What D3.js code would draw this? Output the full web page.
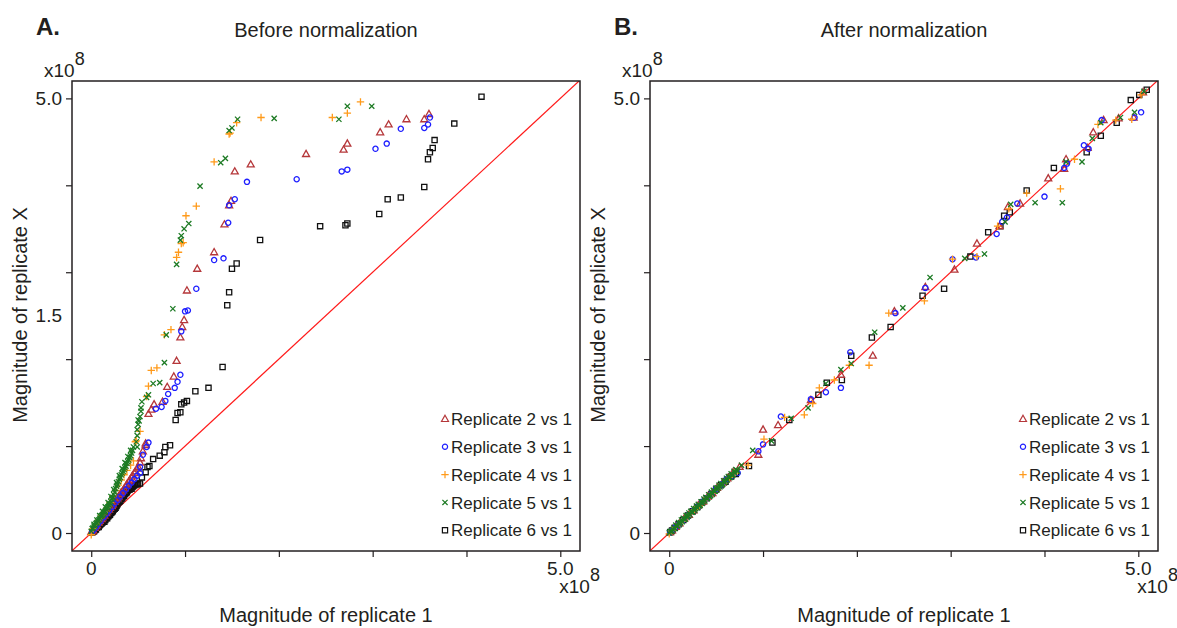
<!DOCTYPE html>
<html>
<head>
<meta charset="utf-8">
<script src="https://cdn.jsdelivr.net/npm/d3@7"></script>
<style>
  body { margin: 0; background: #fff; }
  text { font-family: "Liberation Sans", Arial, Helvetica, sans-serif; fill: #231f20; }
</style>
</head>
<body>
<div id="chart"></div>
<script>
// values are in units of 10^8, read as [replicate 1, replicate X]

// ---- before normalization ----
var before2 = [[0.00,0.01],[0.01,0.02],[0.02,0.03],[0.04,0.06],[0.06,0.09],[0.08,0.12],[0.11,0.16],[0.14,0.20],
  [0.17,0.25],[0.20,0.29],[0.23,0.33],[0.26,0.38],[0.29,0.42],[0.32,0.47],[0.35,0.51],[0.38,0.56],[0.41,0.61],
  [0.44,0.66],[0.47,0.71],[0.50,0.76],[0.52,0.81],[0.53,0.86],[0.55,0.94],[0.58,1.01],[0.58,1.03],[0.61,1.37],
  [0.64,1.42],[0.67,1.48],[0.76,1.51],[0.81,1.68],[0.88,1.80],[0.91,1.98],[0.95,2.25],[0.97,2.37],[0.99,2.45],
  [1.02,2.79],[1.13,3.04],[1.31,3.23],[1.42,3.55],[1.47,3.77],[1.49,3.82],[1.53,4.16],[1.70,4.24],[2.29,4.36],
  [2.69,4.41],[2.73,4.48],[3.08,4.61],[3.17,4.70],[3.36,4.76],[3.55,4.76],[3.60,4.82],
  [0.05,0.08],[0.09,0.14],[0.12,0.18],[0.16,0.23],[0.19,0.27],[0.22,0.31],[0.25,0.36],[0.28,0.40],[0.31,0.45],
  [0.34,0.49],[0.37,0.54],[0.40,0.59],[0.43,0.64],[0.46,0.69],[0.49,0.74]];

var before3 = [[0.01,0.015],[0.03,0.04],[0.05,0.07],[0.07,0.10],[0.10,0.14],[0.13,0.18],[0.16,0.22],[0.19,0.26],
  [0.22,0.30],[0.25,0.34],[0.28,0.38],[0.31,0.42],[0.34,0.46],[0.37,0.50],[0.40,0.54],[0.43,0.58],[0.46,0.62],
  [0.49,0.66],[0.52,0.69],[0.52,0.76],[0.55,0.90],[0.59,0.99],[0.61,1.04],[0.69,1.43],[0.75,1.45],[0.79,1.52],
  [0.82,1.60],[0.89,1.67],[0.92,1.74],[0.95,1.82],[0.96,2.32],[1.00,2.55],[1.03,2.56],[1.12,2.81],[1.31,3.14],
  [1.41,3.16],[1.46,3.57],[1.47,3.77],[1.53,3.84],[1.66,4.04],[2.19,4.07],[2.67,4.16],[2.73,4.18],[3.03,4.42],
  [3.15,4.48],[3.30,4.65],[3.55,4.66],[3.59,4.70],[3.61,4.78]];

var before4 = [[0.00,-0.02],[0.02,0.05],[0.05,0.10],[0.08,0.15],[0.11,0.20],[0.14,0.24],[0.17,0.29],[0.20,0.35],
  [0.23,0.42],[0.26,0.49],[0.29,0.55],[0.32,0.61],[0.35,0.67],[0.38,0.72],[0.42,0.78],[0.45,0.83],[0.47,1.05],
  [0.48,1.06],[0.52,1.17],[0.59,1.57],[0.61,1.69],[0.64,1.87],[0.70,1.90],[0.78,2.28],[0.85,2.34],[0.91,3.17],
  [0.93,3.23],[0.96,3.33],[0.98,3.34],[1.01,3.65],[1.12,3.76],[1.31,4.27],[1.47,4.59],[1.48,4.60],[1.55,4.72],
  [1.81,4.78],[2.57,4.78],[2.73,4.83],[2.87,4.96]];

var before5 = [[0.00,0.02],[0.01,0.05],[0.03,0.08],[0.05,0.11],[0.08,0.15],[0.10,0.19],[0.13,0.22],[0.15,0.25],
  [0.18,0.30],[0.20,0.34],[0.22,0.39],[0.24,0.44],[0.27,0.54],[0.29,0.59],[0.31,0.64],[0.34,0.71],[0.37,0.77],
  [0.40,0.84],[0.43,0.92],[0.45,0.99],[0.49,0.99],[0.48,1.05],[0.49,1.12],[0.49,1.19],[0.50,1.25],[0.50,1.30],
  [0.51,1.29],[0.52,1.34],[0.53,1.40],[0.53,1.44],[0.54,1.51],[0.59,1.56],[0.61,1.59],[0.66,1.72],[0.73,1.73],
  [0.78,1.96],[0.80,2.28],[0.87,2.58],[0.91,3.09],[0.95,3.37],[0.96,3.42],[0.99,3.50],[1.04,3.56],[1.16,3.99],
  [1.38,4.26],[1.43,4.31],[1.47,4.63],[1.50,4.66],[1.56,4.76],[1.95,4.77],[2.64,4.76],[2.73,4.91],[2.99,4.91],
  [0.02,0.06],[0.04,0.09],[0.06,0.12],[0.07,0.14],[0.09,0.17],[0.11,0.20],[0.12,0.21],[0.14,0.24],[0.16,0.27],
  [0.17,0.29],[0.19,0.32],[0.21,0.36],[0.23,0.41],[0.25,0.47],[0.26,0.51],[0.28,0.56],[0.30,0.62],[0.32,0.67],
  [0.33,0.69],[0.35,0.73],[0.36,0.75],[0.38,0.80],[0.39,0.82],[0.41,0.87],[0.42,0.89],[0.44,0.95],
  [0.03,0.10],[0.06,0.15],[0.09,0.20],[0.12,0.25],[0.15,0.30],[0.18,0.35],[0.21,0.42],[0.24,0.50],[0.27,0.58],
  [0.30,0.66],[0.33,0.74],[0.36,0.81],[0.39,0.88],[0.42,0.95]];

var before6 = [[0.01,0.005],[0.02,0.015],[0.04,0.035],[0.06,0.06],[0.09,0.09],[0.12,0.12],[0.15,0.15],[0.19,0.20],
  [0.22,0.24],[0.24,0.27],[0.27,0.31],[0.31,0.37],[0.34,0.42],[0.37,0.46],[0.40,0.50],[0.43,0.51],[0.47,0.56],
  [0.52,0.57],[0.54,0.64],[0.58,0.70],[0.60,0.76],[0.62,0.77],[0.66,0.85],[0.73,0.89],[0.78,0.93],[0.79,0.99],
  [0.84,1.01],[0.90,1.30],[0.92,1.38],[0.95,1.39],[0.96,1.48],[0.99,1.50],[1.02,1.52],[1.11,1.63],[1.25,1.67],
  [1.40,1.91],[1.45,2.62],[1.47,2.77],[1.50,3.04],[1.55,3.10],[1.80,3.37],[2.44,3.53],[2.71,3.54],[2.73,3.56],
  [3.07,3.67],[3.16,3.84],[3.30,3.86],[3.55,3.98],[3.59,4.30],[3.61,4.38],[3.64,4.43],[3.66,4.52],[3.87,4.71],
  [4.16,5.02],
  [0.03,0.02],[0.05,0.04],[0.07,0.07],[0.08,0.07],[0.10,0.10],[0.11,0.11],[0.13,0.14],[0.14,0.13],[0.16,0.17],
  [0.17,0.17],[0.18,0.19],[0.20,0.21],[0.21,0.23],[0.23,0.25],[0.25,0.28],[0.26,0.29],[0.28,0.33],[0.29,0.35],
  [0.30,0.36],[0.32,0.39],[0.33,0.40],[0.35,0.43],[0.36,0.45],[0.38,0.47],[0.39,0.49],[0.41,0.50],[0.42,0.51],
  [0.44,0.53],[0.45,0.54],[0.46,0.55],[0.48,0.56],[0.49,0.56],[0.50,0.57]];

// ---- after normalization ----
var after2 = [[0.01,0.01],[0.03,0.03],[0.07,0.07],[0.11,0.11],[0.16,0.17],[0.21,0.21],[0.26,0.26],[0.31,0.32],
  [0.36,0.36],[0.41,0.42],[0.46,0.46],[0.51,0.52],[0.57,0.58],[0.62,0.63],[0.68,0.70],[0.75,0.76],[0.95,0.90],
  [1.00,1.19],[1.16,1.24],[1.51,1.53],[1.83,1.82],[2.17,2.04],[2.40,2.55],[2.73,2.83],[3.04,3.03],[3.28,3.33],
  [3.52,3.53],[3.61,3.75],[3.74,3.79],[4.04,4.08],[4.21,4.19],[4.23,4.30],[4.46,4.43],[4.52,4.61],[4.63,4.75],
  [4.79,4.77],[4.95,4.78],[5.05,5.07]];

var after3 = [[0.01,0.01],[0.03,0.03],[0.06,0.06],[0.10,0.10],[0.15,0.15],[0.20,0.20],[0.25,0.25],[0.30,0.30],
  [0.35,0.36],[0.40,0.40],[0.45,0.45],[0.50,0.51],[0.56,0.56],[0.61,0.62],[0.67,0.66],[0.73,0.69],[0.95,0.94],
  [1.00,1.02],[1.19,1.34],[1.51,1.54],[1.67,1.62],[1.83,1.67],[1.93,2.08],[2.41,2.53],[2.73,2.82],[3.02,3.15],
  [3.27,3.17],[3.49,3.44],[3.55,3.58],[3.60,3.63],[3.71,3.79],[4.00,3.87],[4.21,4.20],[4.24,4.25],[4.42,4.46],
  [4.47,4.42],[4.61,4.75],[4.96,4.78],[5.03,4.84]];

var after4 = [[0.00,-0.01],[0.03,0.03],[0.07,0.07],[0.12,0.12],[0.17,0.17],[0.22,0.22],[0.27,0.27],[0.32,0.31],
  [0.37,0.37],[0.42,0.42],[0.47,0.46],[0.52,0.53],[0.58,0.57],[0.64,0.64],[0.70,0.69],[0.84,0.78],[1.01,1.08],
  [1.23,1.33],[1.44,1.36],[1.53,1.49],[1.60,1.67],[1.76,1.76],[1.92,1.93],[2.13,1.93],[2.34,2.53],[2.72,2.67],
  [3.02,3.15],[3.28,3.18],[3.50,3.53],[3.62,3.73],[3.81,3.91],[4.17,3.96],[4.32,4.30],[4.57,4.70],[4.76,4.75],
  [4.93,4.76],[5.03,5.04]];

var after5 = [[0.00,0.00],[0.02,0.02],[0.04,0.04],[0.08,0.08],[0.12,0.12],[0.16,0.16],[0.20,0.20],[0.24,0.24],
  [0.28,0.28],[0.32,0.31],[0.36,0.36],[0.40,0.40],[0.44,0.43],[0.48,0.48],[0.52,0.52],[0.56,0.55],[0.60,0.60],
  [0.64,0.64],[0.68,0.67],[0.72,0.72],[0.77,0.78],[0.89,0.95],[1.09,1.06],[1.30,1.32],[1.48,1.44],[1.67,1.72],
  [1.83,1.88],[1.94,1.95],[2.19,2.31],[2.49,2.59],[2.78,2.94],[3.15,3.16],[3.36,3.21],[3.58,3.58],[3.64,3.78],
  [3.90,3.80],[4.19,3.80],[4.23,4.27],[4.40,4.27],[4.51,4.54],[4.60,4.72],[4.81,4.78],[4.96,4.84],[5.06,5.08],
  [0.01,0.02],[0.03,0.02],[0.05,0.06],[0.06,0.05],[0.07,0.09],[0.09,0.08],[0.10,0.12],[0.11,0.10],[0.13,0.15],
  [0.14,0.13],[0.15,0.17],[0.17,0.16],[0.18,0.20],[0.19,0.18],[0.21,0.23],[0.22,0.21],[0.23,0.25],[0.25,0.24],
  [0.26,0.28],[0.27,0.26],[0.29,0.31],[0.30,0.29],[0.31,0.33],[0.33,0.32],[0.34,0.36],[0.35,0.34],[0.37,0.39],
  [0.38,0.37],[0.39,0.41],[0.41,0.40],[0.42,0.44],[0.43,0.42],[0.45,0.47],[0.46,0.45],[0.47,0.49],[0.49,0.48],
  [0.50,0.52],[0.51,0.50],[0.53,0.55],[0.54,0.53],[0.55,0.57],[0.57,0.56],[0.58,0.60],[0.59,0.58],[0.61,0.63],
  [0.62,0.61],[0.63,0.65],[0.65,0.64],[0.66,0.68],[0.67,0.66],[0.69,0.71],[0.70,0.69],[0.71,0.73],[0.73,0.71]];

var after6 = [[0.01,0.01],[0.03,0.03],[0.06,0.06],[0.10,0.10],[0.15,0.15],[0.20,0.20],[0.25,0.25],[0.30,0.30],
  [0.35,0.35],[0.40,0.40],[0.45,0.45],[0.50,0.50],[0.55,0.55],[0.60,0.59],[0.66,0.65],[0.71,0.68],[0.85,0.77],
  [1.10,1.04],[1.28,1.30],[1.59,1.59],[1.68,1.73],[1.84,1.76],[1.94,2.04],[2.16,2.25],[2.36,2.37],[2.70,2.73],
  [2.93,2.81],[3.21,3.18],[3.40,3.46],[3.53,3.53],[3.57,3.65],[3.63,3.69],[3.81,3.94],[4.10,4.20],[4.45,4.38],
  [4.60,4.57],[4.77,4.72],[4.92,4.98],[5.01,5.04],[5.09,5.10]];

// legend names and tick labels
var seriesNames = ["Replicate 2 vs 1", "Replicate 3 vs 1", "Replicate 4 vs 1", "Replicate 5 vs 1", "Replicate 6 vs 1"];
var tickValues = [0, 1, 2, 3, 4, 5];
var xLabelValues = [0, 5];
var xLabelText = ["0", "5.0"];
var yLabelValuesA = [0, 2.5, 5];
var yLabelTextA = ["0", "1.5", "5.0"];
var yLabelValuesB = [0, 5];
var yLabelTextB = ["0", "5.0"];

var shapes = ["triangle", "circle", "plus", "cross", "square"];
var colors = ["#b5373a", "#1f1fff", "#ff9a1a", "#1c7a23", "#111111"];
// black goes down first so the green crosses sit on top of the dense band
var drawOrder = [4, 0, 1, 2, 3];

function markerPath(shape) {
  switch (shape) {
    case "triangle": return "M0,-3.7L3.5,2.5L-3.5,2.5Z";
    case "circle": return "M2.6,0A2.6,2.6 0 1,1 -2.6,0A2.6,2.6 0 1,1 2.6,0";
    case "plus": return "M-3.7,0H3.7M0,-3.7V3.7";
    case "cross": return "M-2.6,-2.6L2.6,2.6M-2.6,2.6L2.6,-2.6";
    default: return "M-2.6,-2.6h5.2v5.2h-5.2Z";
  }
}

var svgWidth = 1177;
var svgHeight = 628;

var svg = d3.select("#chart")
  .append("svg")
  .attr("width", svgWidth)
  .attr("height", svgHeight);

var panels = [
  { letter: "A.", title: "Before normalization", left: 72, series: [before2, before3, before4, before5, before6],
    yVals: yLabelValuesA, yText: yLabelTextA },
  { letter: "B.", title: "After normalization", left: 650, series: [after2, after3, after4, after5, after6],
    yVals: yLabelValuesB, yText: yLabelTextB }
];

var plotTop = 81;
var width = 508;
var height = 470;

panels.forEach(function(p, pi) {
  var g = svg.append("g").attr("transform", `translate(${p.left}, ${plotTop})`);

  var xScale = d3.scaleLinear().domain([-0.205, 5.21]).range([0, width]);
  var yScale = d3.scaleLinear().domain([-0.207, 5.2]).range([height, 0]);

  // clip for the diagonal
  g.append("clipPath").attr("id", "clip" + pi)
    .append("rect").attr("width", width).attr("height", height);

  // axes (ticks only, the box is drawn separately)
  var xAxis = g.append("g")
    .attr("transform", `translate(0, ${height})`)
    .call(d3.axisBottom(xScale).tickValues(tickValues).tickSize(6).tickFormat(""));
  var yAxis = g.append("g")
    .call(d3.axisLeft(yScale).tickValues(tickValues).tickSize(6).tickFormat(""));
  [xAxis, yAxis].forEach(function(a) {
    a.select(".domain").remove();
    a.selectAll("line").attr("stroke", "#231f20").attr("stroke-width", 1.2);
  });

  // tick labels
  g.selectAll("text.xlab")
    .data(xLabelValues)
    .enter()
    .append("text")
    .classed("xlab", true)
    .attr("x", d => xScale(d))
    .attr("y", height + 24)
    .attr("text-anchor", "middle")
    .attr("font-size", "19px")
    .text((d, i) => xLabelText[i]);

  g.selectAll("text.ylab")
    .data(p.yVals)
    .enter()
    .append("text")
    .classed("ylab", true)
    .attr("x", -10)
    .attr("y", d => yScale(d))
    .attr("dy", "0.35em")
    .attr("text-anchor", "end")
    .attr("font-size", "19px")
    .text((d, i) => p.yText[i]);

  // x10^8 multipliers
  var topMult = g.append("text").attr("x", -28).attr("y", -4).attr("font-size", "19px");
  topMult.append("tspan").text("x10");
  topMult.append("tspan").attr("dy", -12).attr("font-size", "18px").text("8");

  var botMult = g.append("text").attr("x", xScale(5) - 1).attr("y", height + 42).attr("font-size", "19px");
  botMult.append("tspan").text("x10");
  botMult.append("tspan").attr("dy", -12).attr("font-size", "18px").text("8");

  // diagonal y = x
  g.append("line")
    .attr("clip-path", `url(#clip${pi})`)
    .attr("x1", xScale(-0.3)).attr("y1", yScale(-0.3))
    .attr("x2", xScale(5.4)).attr("y2", yScale(5.4))
    .attr("stroke", "#ff1a1a")
    .attr("stroke-width", 1.2);

  // points
  drawOrder.forEach(function(si) {
    g.append("g")
      .selectAll("path")
      .data(p.series[si])
      .enter()
      .append("path")
      .attr("d", markerPath(shapes[si]))
      .attr("transform", d => `translate(${xScale(d[0])}, ${yScale(d[1])})`)
      .attr("fill", "none")
      .attr("stroke", colors[si])
      .attr("stroke-width", 1.3);
  });

  // legend
  var legend = g.append("g").attr("transform", `translate(${width - 135}, 338)`);
  seriesNames.forEach(function(name, i) {
    var row = legend.append("g").attr("transform", `translate(0, ${i * 27.8})`);
    row.append("path")
      .attr("d", markerPath(shapes[i]))
      .attr("fill", "none")
      .attr("stroke", colors[i])
      .attr("stroke-width", 1.2);
    row.append("text")
      .attr("x", 6)
      .attr("dy", "0.36em")
      .attr("font-size", "17px")
      .text(name);
  });

  // frame
  g.append("rect")
    .attr("width", width)
    .attr("height", height)
    .attr("fill", "none")
    .attr("stroke", "#231f20")
    .attr("stroke-width", 1.5);

  // titles and axis labels
  g.append("text")
    .attr("x", -36).attr("y", -46)
    .attr("font-size", "24px")
    .attr("font-weight", "bold")
    .text(p.letter);

  g.append("text")
    .attr("x", width / 2).attr("y", -44)
    .attr("text-anchor", "middle")
    .attr("font-size", "20px")
    .text(p.title);

  g.append("text")
    .attr("x", width / 2).attr("y", height + 71)
    .attr("text-anchor", "middle")
    .attr("font-size", "20px")
    .text("Magnitude of replicate 1");

  g.append("text")
    .attr("transform", "rotate(-90)")
    .attr("x", -height / 2 + 1)
    .attr("y", -45)
    .attr("text-anchor", "middle")
    .attr("font-size", "20px")
    .text("Magnitude of replicate X");
});
</script>
</body>
</html>
